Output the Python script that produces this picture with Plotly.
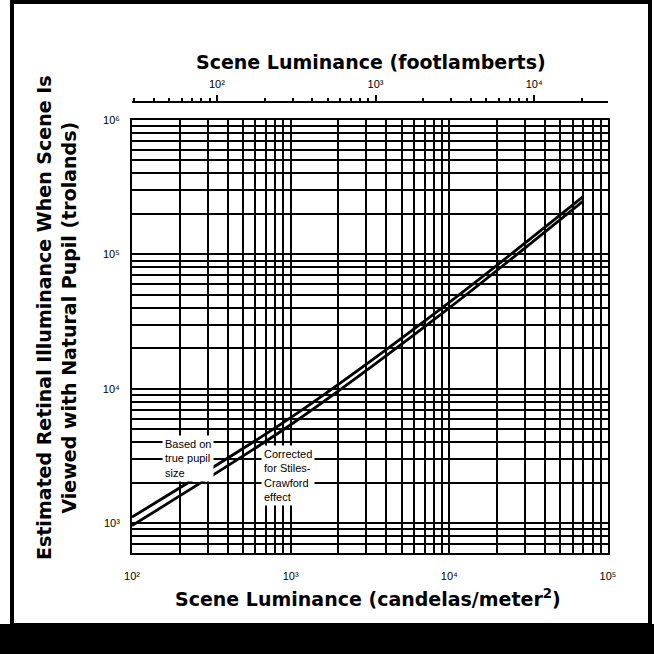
import numpy as np
import plotly.graph_objects as go

# scene luminance (candelas/meter^2)
luminance = [100, 1000, 10000, 70000]
# estimated retinal illuminance (trolands)
true_pupil = [1110, 6100, 44000, 270000]
stiles_crawford = [960, 5400, 40000, 250000]

x_ticks = [100, 1000, 10000, 100000]
x_ticktext = ["10²", "10³", "10⁴", "10⁵"]
y_ticks = [1000, 10000, 100000, 1000000]
y_ticktext = ["10³", "10⁴", "10⁵", "10⁶"]
fl_ticks = [100, 1000, 10000]
fl_ticktext = ["10²", "10³", "10⁴"]

CD_PER_FL = 3.426
X_RANGE = [2, 5]
Y_RANGE = [np.log10(600), 6]

W, H = 654, 654
L, R, T, B = 132, 46, 102, 101
Y_DOMAIN_TOP = 433 / 451

def px(x):
    return (x - L) / (W - L - R)

def py(y):
    return (H - B - y) / (H - T - B)

fig = go.Figure()

fig.add_trace(go.Scatter(x=luminance, y=true_pupil, mode="lines", name="Based on true pupil size",
                         line=dict(color="black", width=2.8, shape="spline", smoothing=0.8)))
fig.add_trace(go.Scatter(x=luminance, y=stiles_crawford, mode="lines", name="Corrected for Stiles-Crawford effect",
                         line=dict(color="black", width=2.8, shape="spline", smoothing=0.8)))

grid = dict(showgrid=True, gridcolor="black", gridwidth=2)
tick_font = dict(family="Liberation Sans", size=11, color="black")

fig.update_layout(
    width=W, height=H,
    margin=dict(l=L, r=R, t=T, b=B),
    paper_bgcolor="white", plot_bgcolor="white",
    showlegend=False,
    font=dict(family="Liberation Sans", size=11, color="black"),
    xaxis=dict(type="log", range=X_RANGE, tickvals=x_ticks, ticktext=x_ticktext,
               ticks="", ticklabelstandoff=12, showline=True, linecolor="black", linewidth=2,
               mirror=True, zeroline=False, minor=dict(dtick="D1", **grid), **grid,
               tickfont=tick_font),
    yaxis=dict(type="log", range=Y_RANGE, domain=[0, Y_DOMAIN_TOP], tickvals=y_ticks,
               ticktext=y_ticktext, ticks="", ticklabelstandoff=8, showline=True,
               linecolor="black", linewidth=2, mirror=True, zeroline=False,
               minor=dict(dtick="D1", **grid), **grid, tickfont=tick_font),
    xaxis2=dict(type="log", overlaying="x", side="top", anchor="free", position=1,
                range=[X_RANGE[0] - np.log10(CD_PER_FL), X_RANGE[1] - np.log10(CD_PER_FL)],
                tickvals=fl_ticks, ticktext=fl_ticktext, ticks="outside", ticklen=6,
                tickwidth=2, tickcolor="black", showline=True, linecolor="black", linewidth=2,
                showgrid=False, zeroline=False, ticklabelstandoff=3,
                minor=dict(dtick="D1", ticks="outside", ticklen=3, tickwidth=2, tickcolor="black"),
                tickfont=tick_font),
)

# empty trace to attach the footlambert axis
fig.add_trace(go.Scatter(x=[], y=[], xaxis="x2", yaxis="y", showlegend=False))

title_font = dict(family="DejaVu Sans", size=19, color="black")
fig.add_annotation(text="<b>Scene Luminance (footlamberts)</b>", xref="paper", yref="paper",
                   x=px(371), y=py(62), xanchor="center", yanchor="middle",
                   showarrow=False, font=title_font)
fig.add_annotation(text="<b>Scene Luminance (candelas/meter<sup>2</sup>)</b>", xref="paper", yref="paper",
                   x=px(368), y=py(598), xanchor="center", yanchor="middle",
                   showarrow=False, font=title_font)
fig.add_annotation(text="<b>Estimated Retinal Illuminance When Scene Is<br>Viewed with Natural Pupil (trolands)</b>",
                   xref="paper", yref="paper", x=px(56), y=py(318), xanchor="center", yanchor="middle",
                   textangle=-90, showarrow=False, font=title_font)

label_font = dict(family="Liberation Sans", size=11, color="black")
fig.add_annotation(text="Based on<br>true pupil<br>size", xref="x", yref="y", x=2.19, y=3.655,
                   xanchor="left", yanchor="top", align="left", showarrow=False,
                   bgcolor="white", borderpad=2, font=label_font)
fig.add_annotation(text="Corrected<br>for Stiles-<br>Crawford<br>effect", xref="x", yref="y", x=2.813, y=3.58,
                   xanchor="left", yanchor="top", align="left", showarrow=False,
                   bgcolor="white", borderpad=2, font=label_font)

# page frame and bottom band
fig.add_shape(type="rect", xref="paper", yref="paper", x0=px(12), x1=px(650), y0=py(625), y1=py(2),
              line=dict(color="black", width=4), layer="above")
fig.add_shape(type="rect", xref="paper", yref="paper", x0=px(0), x1=px(654), y0=py(654), y1=py(624),
              line=dict(width=0), fillcolor="black", layer="above")

fig.write_html("out.html", config={"displayModeBar": False},
               post_script="document.body.style.margin='0';")
